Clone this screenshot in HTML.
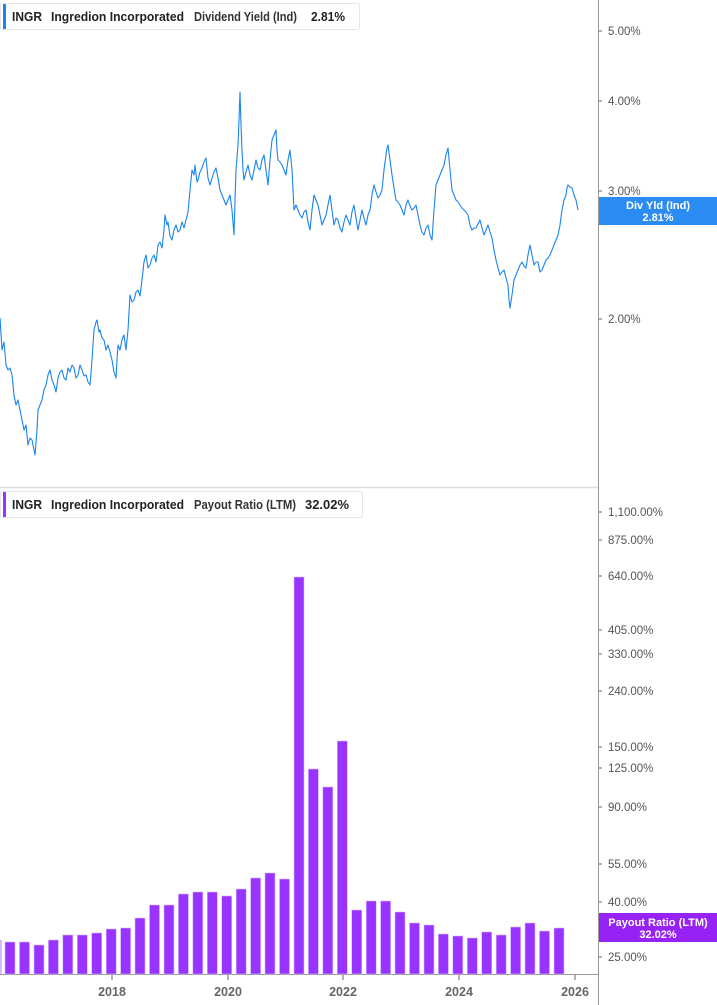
<!DOCTYPE html>
<html><head><meta charset="utf-8"><style>
body{margin:0;background:#fff;font-family:"Liberation Sans",sans-serif;}
svg{display:block}
</style></head><body>
<svg width="717" height="1005" viewBox="0 0 717 1005" xmlns="http://www.w3.org/2000/svg" font-family="Liberation Sans, sans-serif">
<rect width="717" height="1005" fill="#fff"/>
<line x1="0" y1="487.5" x2="598" y2="487.5" stroke="#ddd" stroke-width="1.5"/>
<line x1="598.5" y1="0" x2="598.5" y2="1005" stroke="#999" stroke-width="1"/>
<line x1="0" y1="974.5" x2="598" y2="974.5" stroke="#999" stroke-width="1"/>
<g font-size="11.5" fill="#555">
<text x="608" y="35">5.00%</text><text x="608" y="105">4.00%</text><text x="608" y="195">3.00%</text><text x="608" y="323">2.00%</text>
<text x="608" y="516">1,100.00%</text><text x="608" y="544">875.00%</text><text x="608" y="580">640.00%</text><text x="608" y="634">405.00%</text><text x="608" y="658">330.00%</text><text x="608" y="695">240.00%</text><text x="608" y="751">150.00%</text><text x="608" y="772">125.00%</text><text x="608" y="811">90.00%</text><text x="608" y="868">55.00%</text><text x="608" y="906">40.00%</text><text x="608" y="961">25.00%</text>
</g>
<g stroke="#666" stroke-width="1">
<line x1="599" y1="31" x2="602" y2="31"/><line x1="599" y1="101" x2="602" y2="101"/><line x1="599" y1="191" x2="602" y2="191"/><line x1="599" y1="319" x2="602" y2="319"/>
<line x1="599" y1="512" x2="602" y2="512"/><line x1="599" y1="540" x2="602" y2="540"/><line x1="599" y1="576" x2="602" y2="576"/><line x1="599" y1="630" x2="602" y2="630"/><line x1="599" y1="654" x2="602" y2="654"/><line x1="599" y1="691" x2="602" y2="691"/><line x1="599" y1="747" x2="602" y2="747"/><line x1="599" y1="768" x2="602" y2="768"/><line x1="599" y1="807" x2="602" y2="807"/><line x1="599" y1="864" x2="602" y2="864"/><line x1="599" y1="902" x2="602" y2="902"/><line x1="599" y1="957" x2="602" y2="957"/>
<line x1="112" y1="975" x2="112" y2="980"/><line x1="228" y1="975" x2="228" y2="980"/><line x1="343" y1="975" x2="343" y2="980"/><line x1="459" y1="975" x2="459" y2="980"/><line x1="575" y1="975" x2="575" y2="980"/>
</g>
<g font-size="12.5" font-weight="bold" fill="#666" text-anchor="middle">
<text x="112" y="996">2018</text><text x="228" y="996">2020</text><text x="343" y="996">2022</text><text x="459" y="996">2024</text><text x="575" y="996">2026</text>
</g>
<polyline fill="none" stroke="#1a84f0" stroke-width="1.1" stroke-linejoin="round" points="0,318 2,350 4,342 6,365 8,370 10,368 12,375 14,395 16,405 18,400 20,410 22,420 24,430 26,425 28,445 30,438 32,440 34,450 35,455 37,430 38,410 40,405 42,400 44,390 46,385 48,375 50,370 52,380 54,385 56,392 58,378 60,372 62,370 64,378 66,380 68,368 70,372 72,365 74,368 76,378 78,375 80,365 82,370 84,376 86,375 88,382 90,385 92,360 94,330 96,322 97,320 99,332 100,330 102,338 104,340 106,350 108,345 110,352 112,360 114,372 116,378 117,360 118,345 120,350 122,340 124,335 126,350 128,330 130,295 132,302 134,300 136,292 138,290 140,296 142,280 144,262 146,255 148,268 150,265 152,258 154,255 156,262 158,245 160,242 162,248 164,230 165,215 167,225 168,222 170,236 172,240 174,230 176,225 178,232 180,230 182,222 184,228 186,220 188,212 190,190 192,170 194,175 195,165 197,182 198,180 200,172 202,168 204,162 206,158 208,178 210,185 212,178 214,172 216,168 218,178 220,190 222,195 224,200 226,205 228,200 230,195 232,210 234,235 235,200 236,170 238,145 239,120 240,92 241,125 242,150 243,170 244,180 246,172 248,165 250,175 252,180 254,170 256,160 258,168 260,170 262,160 264,155 266,170 268,185 270,160 272,140 274,135 276,130 277,150 278,160 280,162 282,165 284,170 286,175 288,160 290,150 291,160 292,170 293,190 294,210 296,205 298,210 300,215 302,218 304,212 306,210 308,222 310,230 312,210 314,195 316,200 318,205 320,215 322,225 324,220 326,215 328,205 330,195 332,210 334,225 336,218 338,220 340,228 342,232 344,222 346,215 348,220 350,225 352,212 354,205 356,218 358,230 360,220 362,210 364,218 366,225 368,215 370,210 372,195 374,185 376,192 378,198 380,195 382,190 384,170 386,155 387,148 388,145 390,160 392,175 394,188 396,200 398,202 400,205 402,210 404,215 406,205 408,200 410,206 412,210 414,208 416,205 418,215 420,225 422,232 424,235 426,228 428,225 430,235 432,240 434,210 436,185 438,180 440,175 442,170 444,165 446,155 448,148 450,170 452,190 454,195 456,200 458,202 460,205 462,208 464,210 466,212 468,215 470,225 472,230 474,228 476,228 478,224 480,220 482,228 484,235 486,230 488,225 490,232 492,238 494,250 496,260 498,268 500,275 502,272 504,270 506,278 508,285 509,300 510,308 512,295 514,280 516,275 518,270 520,265 522,262 524,266 526,268 528,255 530,245 532,255 534,265 536,262 538,262 540,272 542,270 544,265 546,260 548,258 550,255 552,250 554,245 556,240 558,235 560,225 562,210 564,200 566,195 567,188 568,185 570,187 572,188 574,195 576,200 577,205 578,210"/>
<rect x="0" y="940" width="2" height="34" fill="#d8b8ff"/>
<g fill="#9933ff" stroke="#d6b4ff" stroke-width="0.6">
<rect x="5" y="942" width="10" height="32"/><rect x="19.5" y="942" width="10" height="32"/><rect x="34" y="945" width="10" height="29"/><rect x="48.4" y="940" width="10" height="34"/><rect x="62.8" y="935" width="10" height="39"/><rect x="77.3" y="935" width="10" height="39"/><rect x="91.7" y="933" width="10" height="41"/><rect x="106.2" y="929" width="10" height="45"/><rect x="120.6" y="928" width="10" height="46"/><rect x="135" y="918" width="10" height="56"/><rect x="149.5" y="905" width="10" height="69"/><rect x="164" y="905" width="10" height="69"/><rect x="178.4" y="894" width="10" height="80"/><rect x="192.8" y="892" width="10" height="82"/><rect x="207.3" y="892" width="10" height="82"/><rect x="221.7" y="896" width="10" height="78"/><rect x="236.2" y="889" width="10" height="85"/><rect x="250.6" y="878" width="10" height="96"/><rect x="265" y="873" width="10" height="101"/><rect x="279.5" y="879" width="10" height="95"/><rect x="294" y="577" width="10" height="397"/><rect x="308.4" y="769" width="10" height="205"/><rect x="322.8" y="787" width="10" height="187"/><rect x="337.3" y="741" width="10" height="233"/><rect x="351.7" y="910" width="10" height="64"/><rect x="366.2" y="901" width="10" height="73"/><rect x="380.6" y="901" width="10" height="73"/><rect x="395" y="912" width="10" height="62"/><rect x="409.5" y="923" width="10" height="51"/><rect x="424" y="925" width="10" height="49"/><rect x="438.4" y="934" width="10" height="40"/><rect x="452.8" y="936" width="10" height="38"/><rect x="467.3" y="938" width="10" height="36"/><rect x="481.7" y="932" width="10" height="42"/><rect x="496.2" y="935" width="10" height="39"/><rect x="510.6" y="927" width="10" height="47"/><rect x="525" y="923" width="10" height="51"/><rect x="539.5" y="931" width="10" height="43"/><rect x="554" y="928" width="10" height="46"/>
</g>
<rect x="599" y="197" width="118" height="28" fill="#2a8bf2"/>
<text x="658" y="209" font-size="11" font-weight="bold" fill="#fff" text-anchor="middle">Div Yld (Ind)</text>
<text x="658" y="221" font-size="11" font-weight="bold" fill="#fff" text-anchor="middle">2.81%</text>
<rect x="599" y="913" width="118" height="29" fill="#9622f5"/>
<text x="658" y="926" font-size="11" font-weight="bold" fill="#fff" text-anchor="middle">Payout Ratio (LTM)</text>
<text x="658" y="938" font-size="11" font-weight="bold" fill="#fff" text-anchor="middle">32.02%</text>
<rect x="0.5" y="3.5" width="359" height="26" fill="#fff" stroke="#e6e6e6" rx="2"/>
<rect x="3" y="4" width="3" height="25" fill="#1a84f0"/>
<g font-size="12.5" font-weight="bold" fill="#222">
<text x="12" y="21" textLength="30" lengthAdjust="spacingAndGlyphs">INGR</text>
<text x="51" y="21" textLength="133" lengthAdjust="spacingAndGlyphs">Ingredion Incorporated</text>
<text x="194" y="21" textLength="103" lengthAdjust="spacingAndGlyphs" fill="#333">Dividend Yield (Ind)</text>
<text x="311" y="21" textLength="34" lengthAdjust="spacingAndGlyphs">2.81%</text>
</g>
<rect x="0.5" y="491.5" width="362" height="26" fill="#fff" stroke="#e6e6e6" rx="2"/>
<rect x="3" y="492" width="3" height="25" fill="#9933ff"/>
<g font-size="12.5" font-weight="bold" fill="#222">
<text x="12" y="509" textLength="30" lengthAdjust="spacingAndGlyphs">INGR</text>
<text x="51" y="509" textLength="133" lengthAdjust="spacingAndGlyphs">Ingredion Incorporated</text>
<text x="194" y="509" textLength="102" lengthAdjust="spacingAndGlyphs" fill="#333">Payout Ratio (LTM)</text>
<text x="305" y="509" textLength="44" lengthAdjust="spacingAndGlyphs">32.02%</text>
</g>
</svg>
</body></html>
